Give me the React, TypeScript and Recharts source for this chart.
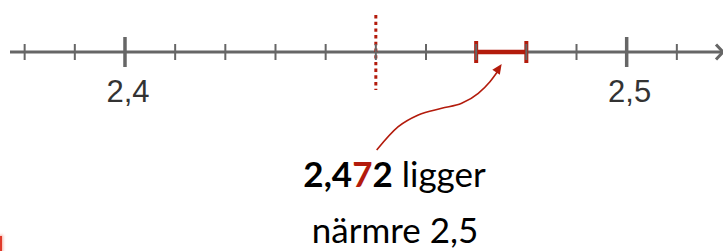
import React from 'react';
import { ComposedChart, XAxis, YAxis, Line, ReferenceLine, ReferenceDot } from 'recharts';

const RED = '#b31b0c';
const AXIS = '#666666';

// number line ticks (hundredths)
const tickValues = [2.38, 2.39, 2.4, 2.41, 2.42, 2.43, 2.44, 2.45, 2.46, 2.47, 2.48, 2.49, 2.5, 2.51];
const majorTicks = [2.4, 2.5];
const majorLabels = ['2,4', '2,5'];
const midpoint = [2.45];
const interval = [2.47, 2.48];
const numberParts = ['2,4', '7', '2'];
const captionLines = [' ligger', 'närmre 2,5'];
// annotation arrow path (x in axis units, y in px below the number line)
const arrowCurve = [
  { x: 2.45017, y: 98 },
  { x: 2.45447, y: 74.7 },
  { x: 2.45846, y: 63 },
  { x: 2.46313, y: 56.3 },
  { x: 2.46711, y: 51.3 },
  { x: 2.47042, y: 41.3 },
  { x: 2.47275, y: 29.7 },
  { x: 2.47441, y: 18.5 },
];
const arrowTip = [{ x: 2.47508, y: 12 }];

const AxisTick = (props: any) => {
  const { x, y, payload } = props;
  const v = payload.value;
  const idx = majorTicks.findIndex((m) => Math.abs(m - v) < 1e-9);
  const major = idx >= 0;
  const h = major ? 15 : 8;
  return (
    <g>
      <line x1={x} x2={x} y1={y - h} y2={y + h} stroke={AXIS} strokeWidth={major ? 3.5 : 2} />
      {major && (
        <text
          x={x + 3}
          y={y + 50}
          textAnchor="middle"
          fontFamily="'Liberation Sans', Arial, sans-serif"
          fontSize={31}
          fill="#333333"
        >
          {majorLabels[idx]}
        </text>
      )}
    </g>
  );
};

const ArrowHead = (props: any) => {
  const { cx, cy } = props;
  const ang = Math.atan2(-17.4, 11.7);
  const len = 10;
  const hw = 4.5;
  const bx = cx - len * Math.cos(ang);
  const by = cy - len * Math.sin(ang);
  const px = -Math.sin(ang);
  const py = Math.cos(ang);
  const pts = `${cx},${cy} ${bx + hw * px},${by + hw * py} ${bx - hw * px},${by - hw * py}`;
  return <polygon points={pts} fill={RED} />;
};

export default function App() {
  const refProps: any = { ifOverflow: 'visible', stroke: RED, zIndex: 1500 };
  return (
    <div style={{ position: 'absolute', left: 0, top: 0, width: 723, height: 251, background: '#fff', overflow: 'hidden' }}>
      <svg width={0} height={0} style={{ position: 'absolute' }}>
        <defs>
          <marker
            id="axArrow"
            viewBox="-12 -12 24 24"
            refX={0}
            refY={0}
            markerWidth={24}
            markerHeight={24}
            markerUnits="userSpaceOnUse"
            orient="auto"
          >
            <path d="M-7,-7.5 L0,0 L-7,7.5" fill="none" stroke={AXIS} strokeWidth={3} />
          </marker>
        </defs>
      </svg>
      <ComposedChart width={723} height={251} margin={{ top: 0, right: 0, bottom: 0, left: 10 }}>
        <XAxis
          dataKey="x"
          type="number"
          orientation="top"
          height={52}
          domain={[2.37708, 2.5192]}
          ticks={tickValues}
          interval={0}
          tickSize={0}
          tickMargin={0}
          tickLine={false}
          axisLine={{ stroke: AXIS, strokeWidth: 3, markerEnd: 'url(#axArrow)' }}
          tick={<AxisTick />}
        />
        <YAxis hide type="number" domain={[0, 199]} reversed />
        <ReferenceLine
          {...refProps}
          segment={[{ x: midpoint[0], y: -37 }, { x: midpoint[0], y: 38 }]}
          strokeWidth={3}
          strokeDasharray="3.4 3.3"
        />
        <ReferenceLine
          {...refProps}
          segment={[{ x: interval[0], y: 0 }, { x: interval[1], y: 0 }]}
          strokeWidth={4.5}
        />
        <ReferenceLine
          {...refProps}
          segment={[{ x: interval[0], y: -11 }, { x: interval[0], y: 11 }]}
          strokeWidth={4}
        />
        <ReferenceLine
          {...refProps}
          segment={[{ x: interval[1], y: -11 }, { x: interval[1], y: 11 }]}
          strokeWidth={4}
        />
        <Line
          data={arrowCurve}
          dataKey="y"
          type="monotone"
          stroke={RED}
          strokeWidth={1.6}
          dot={false}
          activeDot={false}
          isAnimationActive={false}
        />
        <ReferenceDot x={arrowTip[0].x} y={arrowTip[0].y} ifOverflow="visible" zIndex={1500} shape={<ArrowHead />} />
      </ComposedChart>
      <svg width={723} height={251} style={{ position: 'absolute', left: 0, top: 0, pointerEvents: 'none' }}>
        <text x={394.5} y={187} textAnchor="middle" fontFamily="Lato, 'Open Sans', sans-serif" fontSize={35} fill="#000">
          <tspan fontWeight={700}>{numberParts[0]}</tspan>
          <tspan fontWeight={700} fill={RED}>{numberParts[1]}</tspan>
          <tspan fontWeight={700}>{numberParts[2]}</tspan>
          <tspan>{captionLines[0]}</tspan>
        </text>
        <text x={395} y={243} textAnchor="middle" fontFamily="Lato, 'Open Sans', sans-serif" fontSize={35} fill="#000">
          {captionLines[1]}
        </text>
      </svg>
      <div
        style={{
          position: 'absolute',
          left: 0,
          top: 236,
          width: 2,
          height: 15,
          background: '#e03a2a',
          boxShadow: '0 0 3px 1px rgba(240,120,100,0.6)',
        }}
      />
    </div>
  );
}
